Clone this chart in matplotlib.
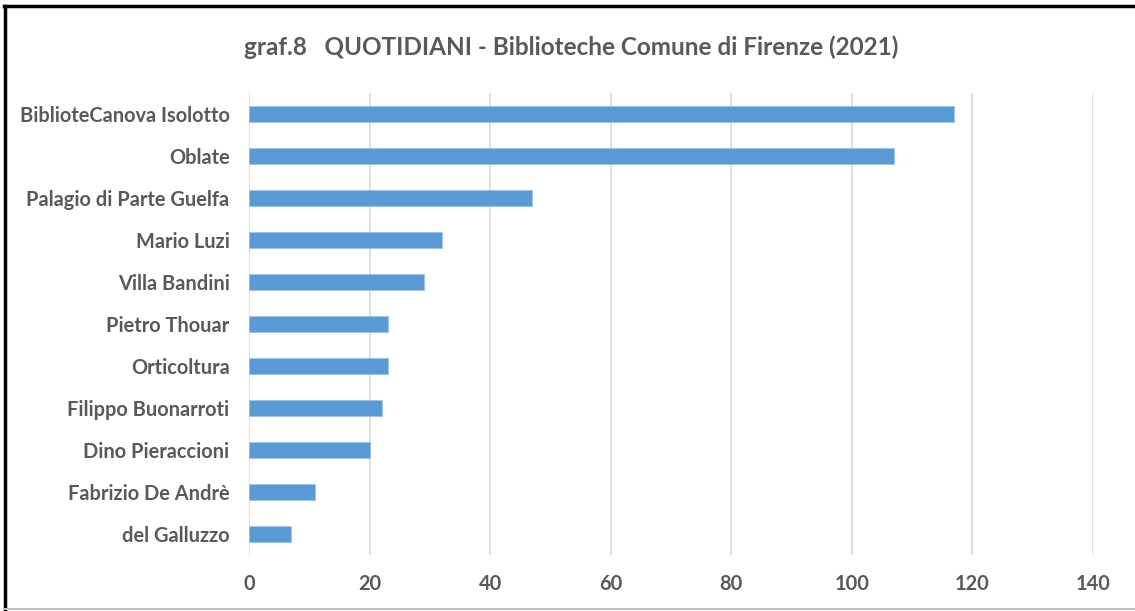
import matplotlib
matplotlib.use('Agg')
import matplotlib.pyplot as plt
from matplotlib.lines import Line2D

# data
libraries = ['BiblioteCanova Isolotto', 'Oblate', 'Palagio di Parte Guelfa',
             'Mario Luzi', 'Villa Bandini', 'Pietro Thouar', 'Orticoltura',
             'Filippo Buonarroti', 'Dino Pieraccioni', 'Fabrizio De Andrè',
             'del Galluzzo']
quotidiani = [117, 107, 47, 32, 29, 23, 23, 22, 20, 11, 7]
x_ticks = [0, 20, 40, 60, 80, 100, 120, 140]

TEXT = '#595959'
BAR = '#5B9BD5'
GRID = '#D9D9D9'

plt.rcParams['font.family'] = ['Lato', 'DejaVu Sans']

fig = plt.figure(figsize=(11.35, 6.11), dpi=100)
ax = fig.add_axes([249 / 1135, 1 - 555 / 611, (1093 - 249) / 1135, (555 - 93) / 611])

ypos = list(range(len(libraries)))[::-1]
ax.barh(ypos, quotidiani, height=0.36, color=BAR, edgecolor='#9DC3E6', linewidth=0.6, zorder=3)

ax.set_xlim(0, 140)
ax.set_ylim(-0.5, len(libraries) - 0.5)
ax.set_xticks(x_ticks)
ax.set_yticks(ypos)
ax.set_yticklabels(libraries)
ax.grid(axis='x', color=GRID, linewidth=1.2, zorder=0)
for s in ax.spines.values():
    s.set_visible(False)
ax.tick_params(axis='both', length=0, colors=TEXT, labelsize=14.4)
ax.tick_params(axis='y', pad=14)
ax.tick_params(axis='x', pad=14)
for lbl in ax.get_xticklabels() + ax.get_yticklabels():
    lbl.set_fontweight('bold')

fig.text(571.5 / 1135, 1 - 47 / 611, 'graf.8   QUOTIDIANI - Biblioteche Comune di Firenze (2021)',
         ha='center', va='center', fontsize=17.5, fontweight='bold', color=TEXT)

# frame around the chart
fig.add_artist(Line2D([5 / 1135, 5 / 1135], [0, 1 - 6 / 611], transform=fig.transFigure,
                      color='black', linewidth=2.5))
fig.add_artist(Line2D([4 / 1135, 1], [1 - 6 / 611, 1 - 6 / 611], transform=fig.transFigure,
                      color='black', linewidth=2.5))
fig.add_artist(Line2D([5 / 1135, 1], [1 - 609 / 611, 1 - 609 / 611], transform=fig.transFigure,
                      color='#BFBFBF', linewidth=1.5))

fig.savefig('out.png', dpi=100)
